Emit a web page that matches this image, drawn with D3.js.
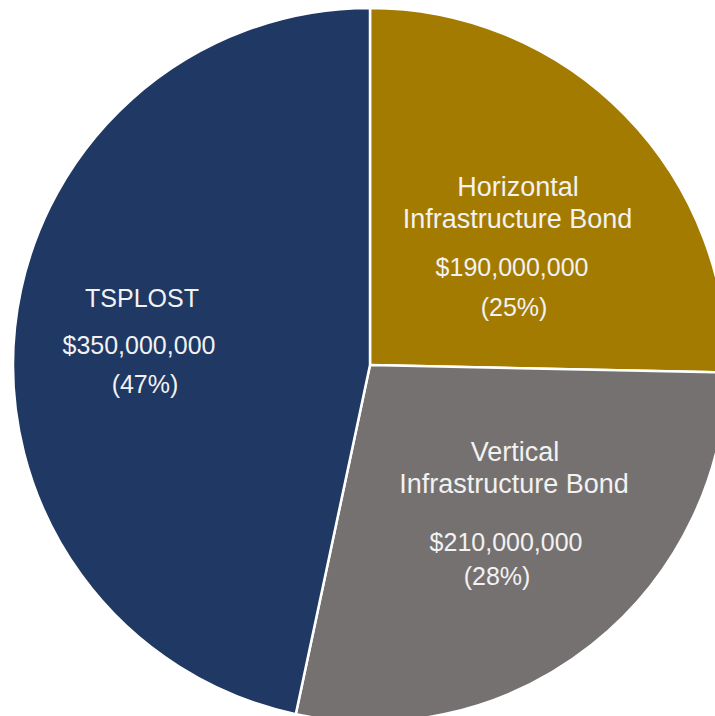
<!DOCTYPE html>
<html>
<head>
<meta charset="utf-8">
<script src="https://cdn.jsdelivr.net/npm/d3@7"></script>
<style>
  html, body { margin: 0; padding: 0; background: #fff; overflow: hidden; }
  svg { display: block; }
</style>
</head>
<body>
<script>
// --- Data ---
const names = ["Horizontal Infrastructure Bond", "Vertical Infrastructure Bond", "TSPLOST"];
const amounts = [190000000, 210000000, 350000000];
const percentLabels = ["(25%)", "(28%)", "(47%)"];
const nameLines = [["Horizontal", "Infrastructure Bond"], ["Vertical", "Infrastructure Bond"], ["TSPLOST"]];

const width = 715, height = 716;
const cx = 370, cy = 365, radius = 357;

const colorScale = d3.scaleOrdinal()
    .domain(names)
    .range(["#a37b00", "#767171", "#1f3864"]);

const svg = d3.select("body").append("svg")
    .attr("width", width)
    .attr("height", height);

const g = svg.append("g")
    .attr("transform", `translate(${cx}, ${cy})`);

const pie = d3.pie()
    .value(d => d.amount)
    .sort(null);

const data = names.map((n, i) => ({ name: n, amount: amounts[i], pct: percentLabels[i], lines: nameLines[i] }));
const arcs = pie(data);

const arc = d3.arc().innerRadius(0).outerRadius(radius);

// Slices
g.selectAll(".slice")
    .data(arcs)
    .enter()
    .append("path")
    .attr("class", "slice")
    .attr("d", arc)
    .attr("fill", d => colorScale(d.data.name))
    .attr("stroke", "#fff")
    .attr("stroke-width", 2.5)
    .attr("stroke-linejoin", "round");

// Labels: anchor at a centroid, then nudge each block
const labelArc = d3.arc().innerRadius(radius * 0.6).outerRadius(radius * 0.6);
const nudge = [
    { dx: -8, dy: 41 },   // horizontal
    { dx: 7, dy: -12 },   // vertical
    { dx: -15, dy: 7 }    // tsplost
];
const money = d3.format("$,");
const nameSize = 27, valSize = 25;

// per-line offsets inside each block [y, dx]
const rowOffsets = [
    [[-60, 3], [-28, 2.5], [20, -3], [60, -1]],
    [[-60, 5], [-28, 4], [30, -4], [64, -13]],
    [[-43, 0], [4, -3], [43, 3]]
];

arcs.forEach((d, i) => {
    const [ax, ay] = labelArc.centroid(d);
    const t = g.append("g")
        .attr("transform", `translate(${ax + nudge[i].dx}, ${ay + nudge[i].dy})`)
        .attr("fill", "#f2f2f2")
        .attr("font-family", "Liberation Sans, Arial, sans-serif")
        .attr("text-anchor", "middle");

    const lines = d.data.lines;
    const texts = lines.map(l => ({ text: l, size: lines.length === 2 ? nameSize : valSize }))
        .concat([{ text: money(d.data.amount), size: valSize }, { text: d.data.pct, size: valSize }]);

    texts.forEach((r, k) => {
        t.append("text")
            .attr("x", rowOffsets[i][k][1])
            .attr("y", rowOffsets[i][k][0])
            .attr("font-size", r.size + "px")
            .text(r.text);
    });
});
</script>
</body>
</html>
